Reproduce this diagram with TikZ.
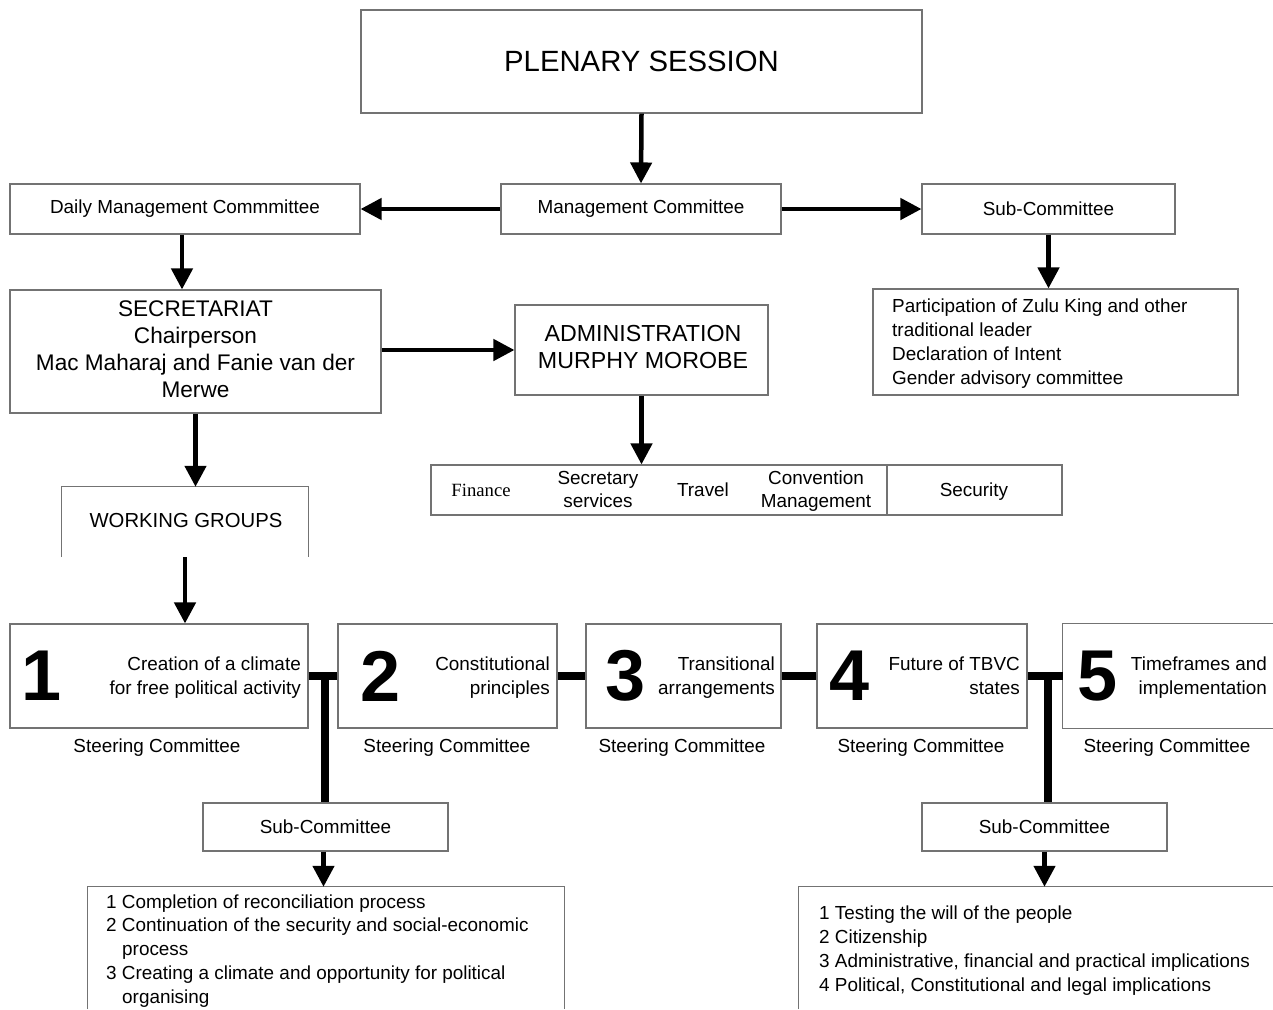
\documentclass[tikz,border=0pt]{standalone}
\usepackage{fontspec}
\setmainfont{Liberation Sans}
\newfontfamily\serifface{Liberation Serif}
\usetikzlibrary{arrows.meta,calc}
\begin{document}
\begin{tikzpicture}[x=1pt,y=-1pt,
  frame/.style={draw=black!55, line width=1.1pt},
  box/.style={frame, rectangle, inner sep=0pt, align=center, font=\fontsize{18.9}{24}\selectfont},
  ghost/.style={rectangle, inner sep=0pt},
  lbl/.style={inner sep=0pt, font=\fontsize{18.9}{24}\selectfont},
  big/.style={inner sep=0pt, align=center, font=\fontsize{22.6}{27}\selectfont},
  num/.style={inner sep=0pt, font=\fontsize{72}{72}\selectfont\bfseries},
  arr/.style={line width=4.5pt, -{Triangle[length=21pt,width=21pt]}},
  bar/.style={line width=8pt}
]
\useasboundingbox (0,0) rectangle (1273,1009);

% top level
\node[box, minimum width=561, minimum height=103, font=\fontsize{29.3}{34}\selectfont] (plen) at (641.5,61.5) {PLENARY SESSION};
\node[box, minimum width=280, minimum height=50] (mgmt) at (641,209) {Management Committee};
\node[box, minimum width=350, minimum height=50] (daily) at (185,209) {Daily Management Commmittee};
\node[box, minimum width=253, minimum height=50] (sub) at (1048.5,209) {Sub-Committee};

% second level
\node[box, minimum width=371, minimum height=123] (sec) at (195.5,351.5) {};
\node[big] (sect) at (195.5,349.5) {SECRETARIAT\\Chairperson\\Mac Maharaj and Fanie van der\\Merwe};
\node[box, minimum width=253, minimum height=90] (adm) at (641.5,350) {};
\node[big, font=\fontsize{23.2}{27}\selectfont] (admt) at (643,347.5) {ADMINISTRATION\\MURPHY MOROBE};
\node[box, minimum width=365, minimum height=106] (part) at (1055.5,342) {};
\node[lbl, anchor=base west] (p1) at (892,312.8) {Participation of Zulu King and other};
\node[lbl, anchor=base west] (p2) at (892,336.8) {traditional leader};
\node[lbl, anchor=base west] (p3) at (892,360.8) {Declaration of Intent};
\node[lbl, anchor=base west] (p4) at (892,384.8) {Gender advisory committee};

% administration row
\node[box, minimum width=631, minimum height=50] (row) at (746.5,490) {};
\draw[frame] (887,465) -- (887,515);
\node[lbl, anchor=base, font=\serifface\fontsize{18.7}{24}\selectfont] (fin) at (481,496.8) {Finance};
\node[lbl, anchor=base] (secs1) at (598,484.8) {Secretary};
\node[lbl, anchor=base] (secs2) at (598,507.8) {services};
\node[lbl, anchor=base] (trav) at (703,496.8) {Travel};
\node[lbl, anchor=base] (conv1) at (816,484.8) {Convention};
\node[lbl, anchor=base] (conv2) at (816,507.8) {Management};
\node[lbl, anchor=base] (secu) at (974,496.8) {Security};

% working groups (open bottom)
\node[ghost, minimum width=246, minimum height=70] (wg) at (185,522) {};
\node[lbl, anchor=base, font=\fontsize{20.3}{24}\selectfont] (wgt) at (186,527.3) {WORKING GROUPS};
\draw[frame] (wg.south west) -- (wg.north west) -- (wg.north east) -- (wg.south east);

% steering boxes
\node[box, minimum width=298, minimum height=104] (b1) at (159,676) {};
\node[box, minimum width=219, minimum height=104] (b2) at (447.5,676) {};
\node[box, minimum width=195, minimum height=104] (b3) at (683.5,676) {};
\node[box, minimum width=210, minimum height=104] (b4) at (922,676) {};
\node[ghost, minimum width=210, minimum height=104] (b5) at (1168,676) {};
\draw[frame] (b5.north east) -- (b5.north west) -- (b5.south west) -- (b5.south east);

\node[num] (n1) at (42,676) {1};
\node[num] (n2) at (381,676) {2};
\node[num] (n3) at (626,676) {3};
\node[num] (n4) at (850,676) {4};
\node[num] (n5) at (1098,676) {5};

\node[lbl, anchor=base east] (t1a) at (301,670.8) {Creation of a climate};
\node[lbl, anchor=base east] (t1b) at (301,694.8) {for free political activity};
\node[lbl, anchor=base east] (t2a) at (550,670.8) {Constitutional};
\node[lbl, anchor=base east] (t2b) at (550,694.8) {principles};
\node[lbl, anchor=base east] (t3a) at (775,670.8) {Transitional};
\node[lbl, anchor=base east] (t3b) at (775,694.8) {arrangements};
\node[lbl, anchor=base east] (t4a) at (1020,670.8) {Future of TBVC};
\node[lbl, anchor=base east] (t4b) at (1020,694.8) {states};
\node[lbl, anchor=base east] (t5a) at (1267,670.8) {Timeframes and};
\node[lbl, anchor=base east] (t5b) at (1267,694.8) {implementation};

\node[lbl, anchor=base] (s1) at (157,752.8) {Steering Committee};
\node[lbl, anchor=base] (s2) at (447,752.8) {Steering Committee};
\node[lbl, anchor=base] (s3) at (682,752.8) {Steering Committee};
\node[lbl, anchor=base] (s4) at (921,752.8) {Steering Committee};
\node[lbl, anchor=base] (s5) at (1167,752.8) {Steering Committee};

% sub-committees
\node[box, minimum width=245, minimum height=48] (sc1) at (325.5,827) {Sub-Committee};
\node[box, minimum width=245, minimum height=48] (sc2) at (1044.5,827) {Sub-Committee};

% lists (open bottom)
\node[ghost, minimum width=476, minimum height=122] (l1) at (326,948) {};
\draw[frame] (l1.south west) -- (l1.north west) -- (l1.north east) -- (l1.south east);
\node[ghost, minimum width=474, minimum height=122] (l2) at (1036,948) {};
\draw[frame] (l2.south west) -- (l2.north west) -- (l2.north east);

\node[lbl, anchor=base west] (a1) at (106,908.8) {1 Completion of reconciliation process};
\node[lbl, anchor=base west] (a2) at (106,931.8) {2 Continuation of the security and social-economic};
\node[lbl, anchor=base west] (a3) at (122,955.8) {process};
\node[lbl, anchor=base west] (a4) at (106,979.8) {3 Creating a climate and opportunity for political};
\node[lbl, anchor=base west] (a5) at (122,1003.8) {organising};

\node[lbl, anchor=base west] (c1) at (819,919.8) {1 Testing the will of the people};
\node[lbl, anchor=base west] (c2) at (819,943.8) {2 Citizenship};
\node[lbl, anchor=base west] (c3) at (819,967.8) {3 Administrative, financial and practical implications};
\node[lbl, anchor=base west] (c4) at (819,991.8) {4 Political, Constitutional and legal implications};

% arrows
\draw[arr] (plen.south) -- (mgmt.north);
\draw[arr] (mgmt.west) -- (daily.east);
\draw[arr] (mgmt.east) -- (sub.west);
\draw[arr] ($(daily.south)+(-3,0)$) -- ($(daily.south |- sec.north)+(-3,0)$);
\draw[arr] (sub.south) -- (sub.south |- part.north);
\draw[arr] (sec.east |- adm.west) -- (adm.west);
\draw[arr] (adm.south) -- (adm.south |- row.north);
\draw[arr] (sec.south) -- (sec.south |- wg.north);
\draw[arr] (wg.south) -- (wg.south |- b1.north);
\draw[arr] ($(sc1.south)+(-2,0)$) -- ($(sc1.south |- l1.north)+(-2,0)$);
\draw[arr] (sc2.south) -- (sc2.south |- l2.north);

% thick connectors
\draw[bar] (b1.east) -- (b2.west);
\draw[bar] (b2.east) -- (b3.west);
\draw[bar] (b3.east) -- (b4.west);
\draw[bar] (b4.east) -- (b5.west);
\coordinate (j1) at (325,676);
\coordinate (j2) at (1048,676);
\draw[bar] (j1) -- (j1 |- sc1.north);
\draw[bar] (j2) -- (j2 |- sc2.north);
\end{tikzpicture}
\end{document}
